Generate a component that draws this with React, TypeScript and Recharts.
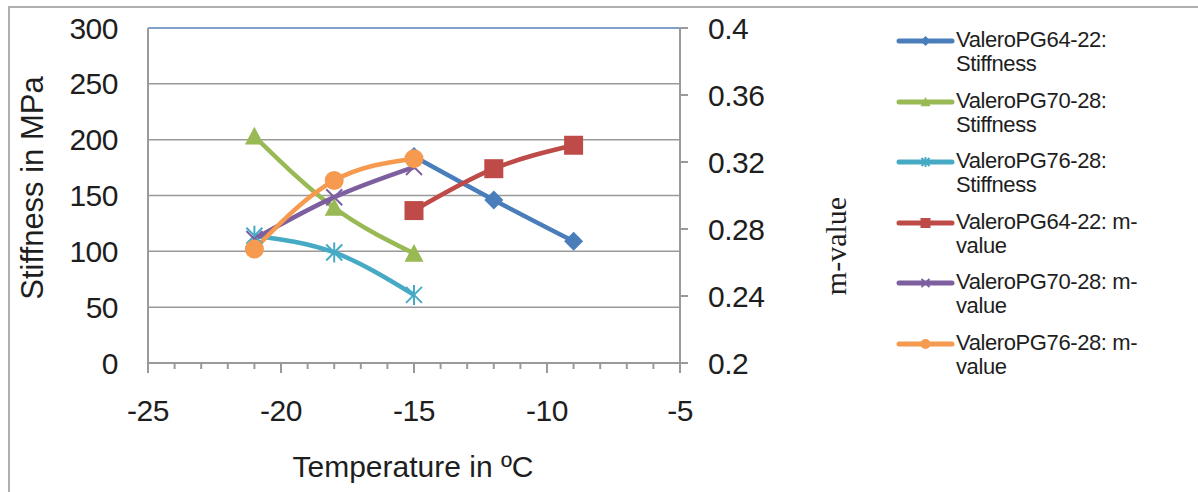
import React from 'react';
import {
  LineChart,
  Line,
  XAxis,
  YAxis,
  CartesianGrid,
  ReferenceLine,
} from 'recharts';

// Test temperatures (°C) per binder grade
const temps6422 = [-15, -12, -9];
const temps7028 = [-21, -18, -15];
const temps7628 = [-21, -18, -15];

// Creep stiffness (MPa)
const stiffness6422 = [185, 146, 109];
const stiffness7028 = [203, 139, 98];
const stiffness7628 = [114, 99, 61];

// m-values
const mValue6422 = [0.291, 0.316, 0.33];
const mValue7028 = [0.274, 0.299, 0.317];
const mValue7628 = [0.268, 0.309, 0.322];

const tempTicks = [-25, -24, -23, -22, -21, -20, -19, -18, -17, -16, -15, -14, -13, -12, -11, -10, -9, -8, -7, -6, -5];
const stiffnessTicks = [0, 50, 100, 150, 200, 250, 300];
const mValueTicks = [0.2, 0.24, 0.28, 0.32, 0.36, 0.4];

const FONT = 'Arial, "Liberation Sans", sans-serif';
const SERIF = '"Times New Roman", "Liberation Serif", serif';
const AXIS_GRAY = '#9a9a9a';
const TEXT = '#1e1e1e';

type Shape = 'diamond' | 'triangle' | 'star' | 'square' | 'cross' | 'circle';

const zip = (xs: number[], ys: number[]) => xs.map((t, i) => ({ t, v: ys[i] }));

const series = [
  { key: 's6422', name: ['ValeroPG64-22:', 'Stiffness'], data: zip(temps6422, stiffness6422), axis: 'left', color: '#4A7EBB', shape: 'diamond' as Shape },
  { key: 's7028', name: ['ValeroPG70-28:', 'Stiffness'], data: zip(temps7028, stiffness7028), axis: 'left', color: '#98B954', shape: 'triangle' as Shape },
  { key: 's7628', name: ['ValeroPG76-28:', 'Stiffness'], data: zip(temps7628, stiffness7628), axis: 'left', color: '#46AAC5', shape: 'star' as Shape },
  { key: 'm6422', name: ['ValeroPG64-22: m-', 'value'], data: zip(temps6422, mValue6422), axis: 'right', color: '#BE4B48', shape: 'square' as Shape },
  { key: 'm7028', name: ['ValeroPG70-28: m-', 'value'], data: zip(temps7028, mValue7028), axis: 'right', color: '#7D5FA0', shape: 'cross' as Shape },
  { key: 'm7628', name: ['ValeroPG76-28: m-', 'value'], data: zip(temps7628, mValue7628), axis: 'right', color: '#F59A4E', shape: 'circle' as Shape },
];

function Marker({ cx, cy, shape, color, s }: { cx: number; cy: number; shape: Shape; color: string; s: number }) {
  switch (shape) {
    case 'diamond':
      return <polygon points={`${cx},${cy - s} ${cx + s},${cy} ${cx},${cy + s} ${cx - s},${cy}`} fill={color} />;
    case 'triangle':
      return <polygon points={`${cx},${cy - s} ${cx + s},${cy + s * 0.85} ${cx - s},${cy + s * 0.85}`} fill={color} />;
    case 'square':
      return <rect x={cx - s} y={cy - s} width={s * 2} height={s * 2} fill={color} />;
    case 'circle':
      return <circle cx={cx} cy={cy} r={s} fill={color} />;
    case 'cross': {
      const d = s * 0.8;
      return (
        <g stroke={color} strokeWidth={2}>
          <line x1={cx - d} y1={cy - d} x2={cx + d} y2={cy + d} />
          <line x1={cx - d} y1={cy + d} x2={cx + d} y2={cy - d} />
        </g>
      );
    }
    case 'star': {
      const d = s * 0.8;
      return (
        <g stroke={color} strokeWidth={2}>
          <line x1={cx - d} y1={cy - d} x2={cx + d} y2={cy + d} />
          <line x1={cx - d} y1={cy + d} x2={cx + d} y2={cy - d} />
          <line x1={cx} y1={cy - s} x2={cx} y2={cy + s} />
        </g>
      );
    }
  }
  return null;
}

// Bottom axis: long ticks with labels every 5 °C, short ticks every 1 °C
function TempTick(props: any) {
  const { x, y, payload } = props;
  const major = payload.value % 5 === 0;
  return (
    <g>
      <line x1={x} y1={y} x2={x} y2={y + (major ? 10 : 6)} stroke={AXIS_GRAY} strokeWidth={2} />
      {major && (
        <text x={x} y={y + 58} textAnchor="middle" fontSize={30} fontFamily={FONT} fill={TEXT} letterSpacing={-0.5}>
          {payload.value}
        </text>
      )}
    </g>
  );
}

function LegendItem({ item, top }: { item: (typeof series)[number]; top: number }) {
  return (
    <div style={{ position: 'absolute', left: 894, top, display: 'flex', alignItems: 'flex-start' }}>
      <svg width={62} height={24} style={{ marginTop: 1 }}>
        <line x1={5} y1={12} x2={58} y2={12} stroke={item.color} strokeWidth={5} strokeLinecap="round" />
        <Marker cx={31.5} cy={12} shape={item.shape} color={item.color} s={5} />
      </svg>
      <div style={{ fontFamily: FONT, fontSize: 22, lineHeight: '24px', color: TEXT, letterSpacing: -0.4 }}>
        {item.name[0]}
        <br />
        {item.name[1]}
      </div>
    </div>
  );
}

export default function App() {
  return (
    <div style={{ position: 'absolute', left: 0, top: 0, width: 1198, height: 492, background: '#fff', overflow: 'hidden' }}>
      <div
        style={{
          position: 'absolute',
          left: 8,
          top: 6,
          width: 1200,
          height: 500,
          borderTop: '2px solid #b0b0b0',
          borderLeft: '2px solid #b0b0b0',
        }}
      />
      <div style={{ position: 'absolute', left: 0, top: 0 }}>
        <LineChart width={1198} height={492} margin={{ top: 28, right: 318, bottom: 0, left: 0 }}>
          <CartesianGrid yAxisId="left" vertical={false} stroke="#999" strokeWidth={1.5} />
          <XAxis
            type="number"
            dataKey="t"
            domain={[-25, -5]}
            ticks={tempTicks}
            interval={0}
            height={129}
            tickSize={0}
            tickMargin={0}
            tickLine={false}
            axisLine={{ stroke: AXIS_GRAY, strokeWidth: 2 }}
            tick={<TempTick />}
            allowDuplicatedCategory={false}
          />
          <YAxis
            yAxisId="left"
            orientation="left"
            domain={[0, 300]}
            ticks={stiffnessTicks}
            width={148}
            tickLine={false}
            tickSize={0}
            tickMargin={30}
            axisLine={{ stroke: AXIS_GRAY, strokeWidth: 2 }}
            tick={{ fontSize: 30, fill: TEXT, fontFamily: FONT, letterSpacing: -0.5 }}
          />
          <YAxis
            yAxisId="right"
            orientation="right"
            domain={[0.2, 0.4]}
            ticks={mValueTicks}
            width={200}
            tickSize={8}
            tickMargin={20}
            tickLine={{ stroke: AXIS_GRAY, strokeWidth: 2 }}
            axisLine={{ stroke: AXIS_GRAY, strokeWidth: 2 }}
            tickFormatter={(v: number) => String(+v.toFixed(2))}
            tick={{ fontSize: 30, fill: TEXT, fontFamily: FONT, letterSpacing: -0.5 }}
          />
          <ReferenceLine yAxisId="left" y={300} stroke="#6f9bd3" strokeWidth={1.5} />
          {series.map((s) => (
            <Line
              key={s.key}
              yAxisId={s.axis}
              data={s.data}
              dataKey="v"
              name={s.name.join(' ')}
              type="monotone"
              stroke={s.color}
              strokeWidth={4.5}
              isAnimationActive={false}
              activeDot={false}
              dot={(p: any) => (
                <Marker key={`${s.key}-${p.index}`} cx={p.cx} cy={p.cy} shape={s.shape} color={s.color} s={s.shape === 'star' || s.shape === 'cross' ? 10 : 9.5} />
              )}
            />
          ))}
        </LineChart>
      </div>
      <svg width={1198} height={492} style={{ position: 'absolute', left: 0, top: 0, pointerEvents: 'none' }}>
        <text x={43} y={188} transform="rotate(-90 43 188)" textAnchor="middle" fontSize={31} fontFamily={FONT} fill={TEXT}>
          Stiffness in MPa
        </text>
        <text x={846} y={246} transform="rotate(-90 846 246)" textAnchor="middle" fontSize={30} fontFamily={SERIF} fill={TEXT}>
          m-value
        </text>
        <text x={413} y={477} textAnchor="middle" fontSize={30} fontFamily={FONT} fill={TEXT}>
          Temperature in ºC
        </text>
      </svg>
      {series.map((s, i) => (
        <LegendItem key={s.key} item={s} top={28 + i * 60.6} />
      ))}
    </div>
  );
}
